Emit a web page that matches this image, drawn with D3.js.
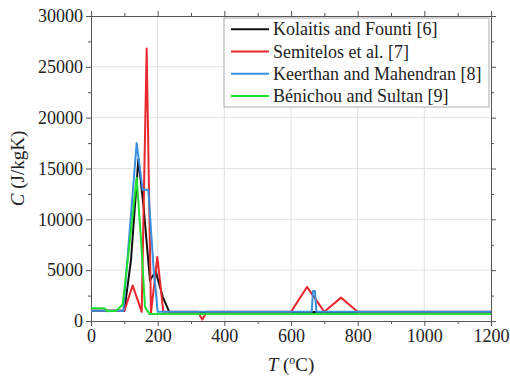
<!DOCTYPE html>
<html><head><meta charset="utf-8">
<script src="https://cdn.jsdelivr.net/npm/d3@7"></script>
<style>
body{margin:0;background:#fff;}
</style></head>
<body><svg id="chart" width="510" height="379"></svg>
<script>
const seriesNames = ["Kolaitis and Founti [6]","Semitelos et al. [7]","Keerthan and Mahendran [8]","Bénichou and Sultan [9]"];
const seriesColors = ["#111111","#e8282c","#3a90e0","#22e030"];
const kolaitisT = [0,100,120,142,157,177,194,215,235,1200];
const kolaitisC = [1000,1000,6000,15900,11500,4000,4900,2400,880,880];
const semitelosT = [0,100,125,152,167,180,199,217,320,334,348,600,648,700,750,800,1200];
const semitelosC = [1000,1000,3500,900,26800,800,6300,900,900,150,900,900,3350,900,2300,900,900];
const keerthanT = [0,97,137,155,172,187,200,662,666,672,676,1200];
const keerthanC = [1000,1000,17500,12900,12900,5500,900,900,2950,2950,900,900];
const benichouT = [0,40,50,75,95,117,137,150,162,175,1200];
const benichouC = [1250,1250,950,1000,1600,8000,14100,8000,1400,700,700];
const xTicks = [0,200,400,600,800,1000,1200];
const yTicks = [0,5000,10000,15000,20000,25000,30000];

const seriesT = [kolaitisT, semitelosT, keerthanT, benichouT];
const seriesC = [kolaitisC, semitelosC, keerthanC, benichouC];
const FONT = "'Liberation Serif', 'Times New Roman', 'DejaVu Serif', serif";

const svg = d3.select("#chart");
const m = {left:91, right:19, top:16, bottom:58};
const W = 510, H = 379;
const x = d3.scaleLinear().domain([0,1200]).range([m.left, W-m.right]);
const y = d3.scaleLinear().domain([0,30000]).range([H-m.bottom, m.top]);

// grid
svg.append("g").selectAll("line").data(xTicks.slice(1,-1)).join("line")
  .attr("x1",d=>x(d)).attr("x2",d=>x(d)).attr("y1",y(0)).attr("y2",y(30000))
  .attr("stroke","#e2e2e2").attr("stroke-width",1);
svg.append("g").selectAll("line").data(yTicks.slice(1,-1)).join("line")
  .attr("y1",d=>y(d)).attr("y2",d=>y(d)).attr("x1",x(0)).attr("x2",x(1200))
  .attr("stroke","#e2e2e2").attr("stroke-width",1);

const axisColor = "#555";
const minorX = d3.range(100,1200,200);
const minorY = d3.range(2500,30000,5000);
function styleAxis(g){
  g.attr("font-family",FONT);
  g.selectAll("path,line").attr("stroke",axisColor);
  g.selectAll("text").attr("font-size","18px").attr("fill","#222").attr("font-family",FONT);
}
// bottom
svg.append("g").attr("transform",`translate(0,${y(0)})`)
  .call(d3.axisBottom(x).tickValues(xTicks).tickSizeOuter(0).tickSize(5).tickPadding(3).tickFormat(d3.format("d")))
  .call(styleAxis);
svg.append("g").attr("transform",`translate(0,${y(0)})`)
  .call(d3.axisBottom(x).tickValues(minorX).tickSize(3).tickFormat(""))
  .call(g=>g.select(".domain").remove()).call(styleAxis);
// top
svg.append("g").attr("transform",`translate(0,${y(30000)})`)
  .call(d3.axisTop(x).tickValues(xTicks).tickSizeOuter(0).tickSize(5).tickFormat(""))
  .call(styleAxis);
svg.append("g").attr("transform",`translate(0,${y(30000)})`)
  .call(d3.axisTop(x).tickValues(minorX).tickSize(3).tickFormat(""))
  .call(g=>g.select(".domain").remove()).call(styleAxis);
// left
svg.append("g").attr("transform",`translate(${x(0)},0)`)
  .call(d3.axisLeft(y).tickValues(yTicks).tickSizeOuter(0).tickSize(5).tickPadding(3).tickFormat(d3.format("d")))
  .call(styleAxis);
svg.append("g").attr("transform",`translate(${x(0)},0)`)
  .call(d3.axisLeft(y).tickValues(minorY).tickSize(3).tickFormat(""))
  .call(g=>g.select(".domain").remove()).call(styleAxis);
// right
svg.append("g").attr("transform",`translate(${x(1200)},0)`)
  .call(d3.axisRight(y).tickValues(yTicks).tickSizeOuter(0).tickSize(5).tickFormat(""))
  .call(styleAxis);
svg.append("g").attr("transform",`translate(${x(1200)},0)`)
  .call(d3.axisRight(y).tickValues(minorY).tickSize(3).tickFormat(""))
  .call(g=>g.select(".domain").remove()).call(styleAxis);

// lines
const line = d3.line().x(d=>x(d[0])).y(d=>y(d[1]));
seriesT.forEach((ts,i)=>{
  const pts = ts.map((t,j)=>[t, seriesC[i][j]]);
  svg.append("path").datum(pts).attr("d",line)
    .attr("fill","none").attr("stroke",seriesColors[i]).attr("stroke-width",2)
    .attr("stroke-linejoin","round");
});

// legend
const lg = svg.append("g");
const lx0 = 224, ly0 = 18, lw = 265, lh = 89;
lg.append("rect").attr("x",lx0).attr("y",ly0).attr("width",lw).attr("height",lh)
  .attr("fill","#fff").attr("stroke","#aaa").attr("stroke-width",1);
seriesNames.forEach((n,i)=>{
  const cy = ly0 + lh/4*(i+0.5);
  lg.append("line").attr("x1",231).attr("x2",269).attr("y1",cy).attr("y2",cy)
    .attr("stroke",seriesColors[i]).attr("stroke-width",2);
  lg.append("text").attr("x",273).attr("y",cy).attr("dy","0.35em")
    .attr("font-size","18px").attr("fill","#222").text(n);
});

// axis titles
const xt = svg.append("text").attr("x",(x(0)+x(1200))/2).attr("y",371)
  .attr("text-anchor","middle").attr("font-size","19px").attr("fill","#222");
xt.append("tspan").attr("font-style","italic").text("T");
xt.append("tspan").text(" (");
xt.append("tspan").attr("font-size","12px").attr("dy","-7").text("o");
xt.append("tspan").attr("dy","7").text("C)");

const yt = svg.append("text").attr("transform",`translate(24,${(y(0)+y(30000))/2}) rotate(-90)`)
  .attr("text-anchor","middle").attr("font-size","19px").attr("fill","#222");
yt.append("tspan").attr("font-style","italic").text("C");
yt.append("tspan").text(" (J/kgK)");

svg.selectAll("text").attr("font-family",FONT);
</script></body></html>
